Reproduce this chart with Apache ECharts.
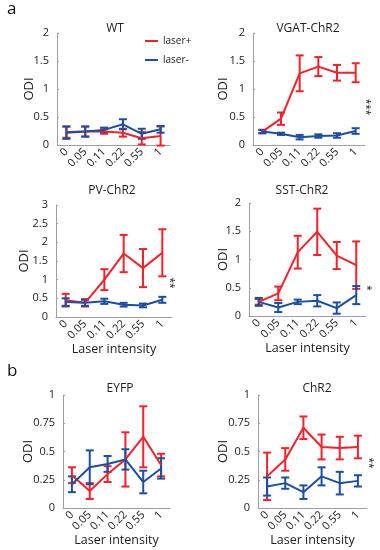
<!DOCTYPE html>
<html><head><meta charset="utf-8">
<script src="https://cdn.jsdelivr.net/npm/echarts@6/dist/echarts.min.js"></script>
<style>html,body{margin:0;padding:0;background:#fff}#c{width:380px;height:550px}</style>
</head><body><div id="c"></div>
<script>
const categories = ['0','0.05','0.11','0.22','0.55','1'];

const wtRed = [0.23,0.24,0.24,0.22,0.12,0.16];
const wtRedErr = [0.10,0.09,0.04,0.07,0.11,0.17];
const wtBlue = [0.22,0.24,0.27,0.37,0.20,0.28];
const wtBlueErr = [0.11,0.09,0.04,0.09,0.09,0.06];

const vgatRed = [0.24,0.47,1.28,1.40,1.29,1.29];
const vgatRedErr = [0.03,0.11,0.32,0.17,0.14,0.17];
const vgatBlue = [0.24,0.20,0.14,0.16,0.17,0.25];
const vgatBlueErr = [0.03,0.02,0.04,0.03,0.04,0.05];

const pvRed = [0.45,0.38,1.00,1.70,1.31,1.72];
const pvRedErr = [0.17,0.10,0.28,0.50,0.51,0.63];
const pvBlue = [0.40,0.38,0.42,0.33,0.31,0.46];
const pvBlueErr = [0.10,0.08,0.07,0.05,0.05,0.08];

const sstRed = [0.25,0.40,1.13,1.49,1.07,0.90];
const sstRedErr = [0.05,0.12,0.29,0.41,0.24,0.42];
const sstBlue = [0.25,0.15,0.25,0.27,0.14,0.37];
const sstBlueErr = [0.07,0.08,0.04,0.10,0.10,0.16];

const eyfpRed = [0.29,0.15,0.30,0.43,0.63,0.38];
const eyfpRedErr = [0.07,0.07,0.07,0.24,0.27,0.10];
const eyfpBlue = [0.21,0.36,0.39,0.43,0.23,0.35];
const eyfpBlueErr = [0.07,0.15,0.07,0.09,0.10,0.09];

const chr2Red = [0.28,0.43,0.71,0.54,0.53,0.54];
const chr2RedErr = [0.21,0.10,0.10,0.11,0.10,0.10];
const chr2Blue = [0.19,0.22,0.14,0.28,0.22,0.24];
const chr2BlueErr = [0.08,0.05,0.06,0.08,0.10,0.05];

const panelTitles = ['WT','VGAT-ChR2','PV-ChR2','SST-ChR2','EYFP','ChR2'];
const yMax = [2,2,3,2,1,1];
const yInterval = [0.5,0.5,0.5,0.5,0.25,0.25];
const stars = ['','***','**','*','','**'];

const RED = '#f5212a', BLUE = '#1b4fa3';
const FONT = 'Open Sans';
const panels = [
  [wtRed,wtRedErr,wtBlue,wtBlueErr],
  [vgatRed,vgatRedErr,vgatBlue,vgatBlueErr],
  [pvRed,pvRedErr,pvBlue,pvBlueErr],
  [sstRed,sstRedErr,sstBlue,sstBlueErr],
  [eyfpRed,eyfpRedErr,eyfpBlue,eyfpBlueErr],
  [chr2Red,chr2RedErr,chr2Blue,chr2BlueErr]
];
const grids = [
  {left:57,top:33,width:113,height:112},
  {left:253,top:33,width:112,height:112},
  {left:56,top:205,width:116,height:112},
  {left:249,top:203,width:117,height:113},
  {left:63,top:395,width:107,height:113},
  {left:258,top:395,width:109,height:113}
];
const yNameGap = [21,23,25,19,28,28];
const titlePos = [[110,18],[303,18],[107,180],[297,180],[115,378],[312,378]];
const starPos = [[0,0],[366,107],[170,283],[367,288],[0,0],[369,463]];

function errItem(params, api){
  const x = api.value(0), lo = api.value(1), hi = api.value(2);
  const a = api.coord([x, lo]), b = api.coord([x, hi]);
  const c = api.visual('color'); const hw = 4;
  const st = {stroke:c, lineWidth:2};
  return {type:'group', children:[
    {type:'line', shape:{x1:a[0],y1:a[1],x2:b[0],y2:b[1]}, style:st},
    {type:'line', shape:{x1:a[0]-hw,y1:a[1],x2:a[0]+hw,y2:a[1]}, style:st},
    {type:'line', shape:{x1:b[0]-hw,y1:b[1],x2:b[0]+hw,y2:b[1]}, style:st}
  ]};
}

const gridOpt=[], xAxes=[], yAxes=[], series=[], titles=[], graphics=[];
panels.forEach((p,i)=>{
  gridOpt.push(Object.assign({containLabel:false}, grids[i]));
  const showName = i>=2;
  xAxes.push({type:'category', gridIndex:i, data:categories, boundaryGap:true,
    axisLine:{lineStyle:{color:'#a0a0a0',width:1}},
    axisTick:{show:false},
    axisLabel:{rotate:45, color:'#222', fontSize:11, fontFamily:FONT, margin:5, interval:0},
    name: showName ? 'Laser intensity' : '', nameLocation:'middle', nameGap:26,
    nameMoveOverlap:false,
    nameTextStyle:{color:'#222', fontSize:12.5, fontFamily:FONT}
  });
  yAxes.push({type:'value', gridIndex:i, min:0, max:yMax[i], interval:yInterval[i],
    axisLine:{show:true, lineStyle:{color:'#a0a0a0',width:1}},
    axisTick:{show:true, inside:true, length:2, lineStyle:{color:'#a0a0a0'}},
    splitLine:{show:false},
    axisLabel:{color:'#222', fontSize:11, fontFamily:FONT, margin:8},
    name:'ODI', nameLocation:'middle', nameGap:yNameGap[i],
    nameMoveOverlap:false,
    nameTextStyle:{color:'#222', fontSize:13, fontFamily:FONT}
  });
  const [rm,re,bm,be] = p;
  [[rm,re,RED,'laser+'],[bm,be,BLUE,'laser-']].forEach(([m,e,col,name])=>{
    series.push({type:'line', name:name, xAxisIndex:i, yAxisIndex:i, data:m,
      symbol:'none', lineStyle:{color:col,width:2}, itemStyle:{color:col}, animation:false});
    series.push({type:'custom', name:name, xAxisIndex:i, yAxisIndex:i,
      renderItem:errItem, itemStyle:{color:col}, encode:{x:0,y:[1,2]},
      data:m.map((v,k)=>[k, v-e[k], v+e[k]]), animation:false, z:3});
  });
  titles.push({text:panelTitles[i], left:titlePos[i][0], top:titlePos[i][1], textAlign:'center',
    textStyle:{fontSize:12, fontWeight:'normal', color:'#222', fontFamily:FONT}});
  if(stars[i]){
    graphics.push({type:'text', x:starPos[i][0], y:starPos[i][1], rotation:-Math.PI/2,
      style:{text:stars[i], fontSize:10, fill:'#222', fontFamily:FONT, textAlign:'center', textVerticalAlign:'middle'}});
  }
});
graphics.push({type:'text', left:7, top:1, style:{text:'a', fontSize:17, fill:'#111', fontFamily:FONT}});
graphics.push({type:'text', left:7, top:363, style:{text:'b', fontSize:17, fill:'#111', fontFamily:FONT}});

const chart = echarts.init(document.getElementById('c'), null, {renderer:'canvas'});
chart.setOption({
  animation:false,
  title:titles,
  grid:gridOpt, xAxis:xAxes, yAxis:yAxes, series:series, graphic:graphics,
  legend:{data:['laser+','laser-'], left:140, top:31, orient:'vertical', icon:'rect',
    itemWidth:13, itemHeight:2, itemGap:9, textStyle:{fontSize:10, color:'#222', fontFamily:FONT}}
});
</script></body></html>
